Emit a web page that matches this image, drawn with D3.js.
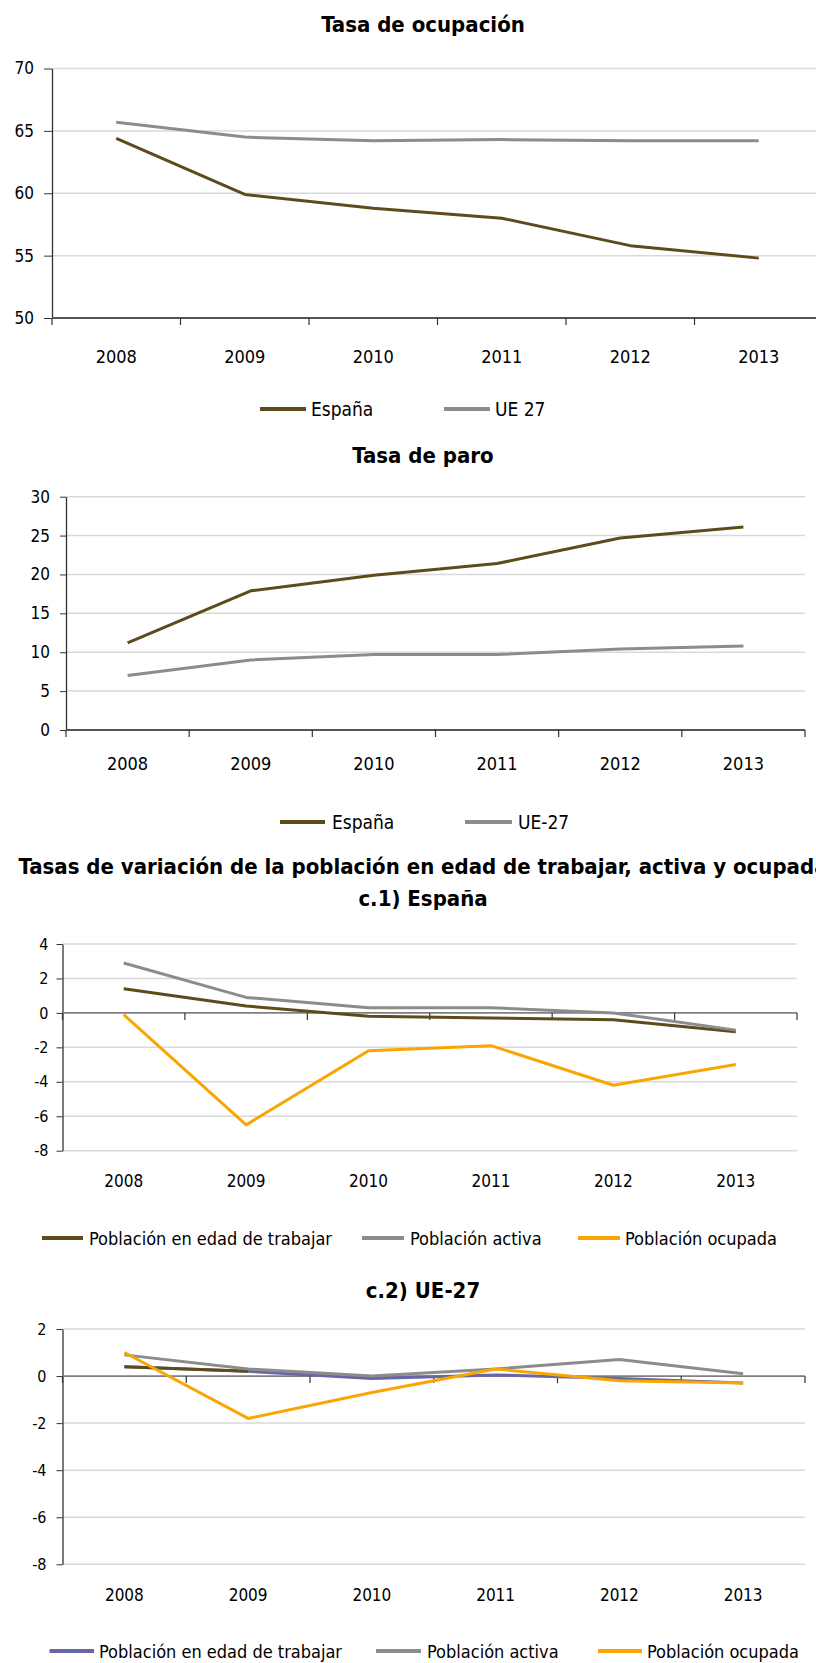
<!DOCTYPE html>
<html>
<head>
<meta charset="utf-8">
<script src="https://cdn.jsdelivr.net/npm/d3@7"></script>
<style>
  body { margin: 0; background: #fff; }
  svg text { font-family: "DejaVu Sans Condensed", "DejaVu Sans", sans-serif; font-stretch: condensed; fill: #000; }
</style>
</head>
<body>
<div id="chart"></div>
<script>
// categories
var years = ["2008", "2009", "2010", "2011", "2012", "2013"];

// a) Tasa de ocupación
var ocupEspana = [64.4, 59.9, 58.8, 58.0, 55.8, 54.8];
var ocupUE27   = [65.7, 64.5, 64.2, 64.3, 64.2, 64.2];
var ocupTicks  = [50, 55, 60, 65, 70];

// b) Tasa de paro
var paroEspana = [11.2, 17.9, 19.9, 21.4, 24.7, 26.1];
var paroUE27   = [7.0, 9.0, 9.7, 9.7, 10.4, 10.8];
var paroTicks  = [0, 5, 10, 15, 20, 25, 30];

// c.1) España
var espEdad    = [1.4, 0.4, -0.2, -0.3, -0.4, -1.1];
var espActiva  = [2.9, 0.9, 0.3, 0.3, 0.0, -1.0];
var espOcupada = [-0.1, -6.5, -2.2, -1.9, -4.2, -3.0];
var espTicks   = [-8, -6, -4, -2, 0, 2, 4];

// c.2) UE-27
var ueEdad    = [0.4, 0.2, -0.1, 0.05, -0.1, -0.3];
var ueActiva  = [0.9, 0.3, 0.0, 0.3, 0.7, 0.1];
var ueOcupada = [1.0, -1.8, -0.7, 0.3, -0.2, -0.3];
var ueTicks   = [-8, -6, -4, -2, 0, 2];

var BROWN = "#5e4b1c", GRAY = "#8c8c8c", ORANGE = "#f9a602", PURPLE = "#6767a7";

var svg = d3.select("#chart").append("svg")
  .attr("width", 816)
  .attr("height", 1663);

function drawChart(cfg) {
  var g = svg.append("g");

  var x = d3.scaleBand().domain(years).range([cfg.left, cfg.right]);
  var y = d3.scaleLinear().domain(d3.extent(cfg.ticks)).range([cfg.bottom, cfg.top]);
  var gridRight = Math.min(cfg.right, 816);

  // titles
  cfg.titles.forEach(function (t) {
    g.append("text")
      .attr("x", 423).attr("y", t.y)
      .attr("text-anchor", "middle")
      .attr("dominant-baseline", "central")
      .style("font-size", "22px").style("font-weight", "bold")
      .text(t.text);
  });

  // gridlines
  g.selectAll(".grid")
    .data(cfg.ticks.filter(function (d) { return d !== cfg.base; }))
    .enter().append("line")
    .attr("x1", cfg.left).attr("x2", gridRight)
    .attr("y1", function (d) { return y(d); })
    .attr("y2", function (d) { return y(d); })
    .attr("stroke", "#d9d9d9").attr("stroke-width", 1.5);

  // y axis (plain hyphen for negatives, as in the original)
  var yAxis = g.append("g")
    .attr("transform", "translate(" + cfg.left + ",0)")
    .call(d3.axisLeft(y)
      .tickValues(cfg.ticks)
      .tickFormat(function (d) { return String(d); })
      .tickSize(cfg.yTick).tickSizeOuter(0).tickPadding(cfg.yPad));
  yAxis.attr("font-family", null).attr("font-size", null);
  yAxis.select(".domain").attr("stroke", "#333").attr("stroke-width", 1.3);
  yAxis.selectAll(".tick line").attr("stroke", "#333");
  yAxis.selectAll("text").style("font-size", cfg.yFont + "px");

  // category axis on the base value
  var y0 = y(cfg.base);
  g.append("line")
    .attr("x1", cfg.left).attr("x2", gridRight)
    .attr("y1", y0).attr("y2", y0)
    .attr("stroke", cfg.baseColor).attr("stroke-width", 1.8);

  var bounds = years.map(function (d) { return x(d); }).concat([cfg.right]);
  g.selectAll(".xtick").data(bounds).enter().append("line")
    .attr("x1", function (d) { return d; }).attr("x2", function (d) { return d; })
    .attr("y1", y0).attr("y2", y0 + 7)
    .attr("stroke", "#333").attr("stroke-width", 1.2);

  g.selectAll(".xlab").data(years).enter().append("text")
    .attr("x", function (d) { return x(d) + x.bandwidth() / 2; })
    .attr("y", cfg.labelY)
    .attr("text-anchor", "middle")
    .attr("dominant-baseline", "central")
    .style("font-size", cfg.xFont + "px")
    .text(function (d) { return d; });

  // series
  var line = d3.line()
    .x(function (d, i) { return x(years[i]) + x.bandwidth() / 2; })
    .y(function (d) { return y(d); });

  cfg.series.forEach(function (s) {
    g.append("path")
      .datum(s.values)
      .attr("fill", "none")
      .attr("stroke", s.color)
      .attr("stroke-width", 3)
      .attr("stroke-linejoin", "round")
      .attr("d", line);
    if (s.headColor) {
      // first segment drawn in another colour, as in the original
      g.append("path")
        .datum(s.values.slice(0, 2))
        .attr("fill", "none")
        .attr("stroke", s.headColor)
        .attr("stroke-width", 3)
        .attr("d", line);
    }
  });

  // legend
  cfg.legend.forEach(function (l, i) {
    var s = cfg.series[i];
    g.append("line")
      .attr("x1", l[0]).attr("x2", l[1])
      .attr("y1", cfg.legendY).attr("y2", cfg.legendY)
      .attr("stroke", s.color).attr("stroke-width", 4);
    g.append("text")
      .attr("x", l[2]).attr("y", cfg.legendY)
      .attr("dominant-baseline", "central")
      .style("font-size", cfg.legendFont + "px")
      .text(s.name);
  });
}

drawChart({
  titles: [{ text: "Tasa de ocupación", y: 24 }],
  left: 52, right: 823, top: 68.5, bottom: 318,
  ticks: ocupTicks, base: 50, baseColor: "#555",
  yTick: 8, yPad: 10, yFont: 17, xFont: 18, labelY: 356,
  series: [
    { name: "España", values: ocupEspana, color: BROWN },
    { name: "UE 27", values: ocupUE27, color: GRAY }
  ],
  legendY: 409, legendFont: 19,
  legend: [[260, 306, 311], [444, 490, 495]]
});

drawChart({
  titles: [{ text: "Tasa de paro", y: 455 }],
  left: 66, right: 805, top: 496.7, bottom: 730,
  ticks: paroTicks, base: 0, baseColor: "#555",
  yTick: 6, yPad: 10, yFont: 17, xFont: 18, labelY: 763,
  series: [
    { name: "España", values: paroEspana, color: BROWN },
    { name: "UE-27", values: paroUE27, color: GRAY }
  ],
  legendY: 822, legendFont: 19,
  legend: [[280, 325, 332], [465, 512, 518]]
});

drawChart({
  titles: [
    { text: "Tasas de variación de la población en edad de trabajar, activa y ocupada", y: 866 },
    { text: "c.1) España", y: 898 }
  ],
  left: 62.5, right: 797, top: 944, bottom: 1150.7,
  ticks: espTicks, base: 0, baseColor: "#7f7f7f",
  yTick: 6, yPad: 8, yFont: 16, xFont: 17, labelY: 1181,
  series: [
    { name: "Población en edad de trabajar", values: espEdad, color: BROWN },
    { name: "Población activa", values: espActiva, color: GRAY },
    { name: "Población ocupada", values: espOcupada, color: ORANGE }
  ],
  legendY: 1238, legendFont: 18,
  legend: [[42, 83, 89], [362, 404, 410], [578, 620, 625]]
});

drawChart({
  titles: [{ text: "c.2) UE-27", y: 1290 }],
  left: 62.5, right: 805, top: 1329, bottom: 1564.3,
  ticks: ueTicks, base: 0, baseColor: "#7f7f7f",
  yTick: 6, yPad: 10, yFont: 16, xFont: 17, labelY: 1595,
  series: [
    { name: "Población en edad de trabajar", values: ueEdad, color: PURPLE, headColor: BROWN },
    { name: "Población activa", values: ueActiva, color: GRAY },
    { name: "Población ocupada", values: ueOcupada, color: ORANGE }
  ],
  legendY: 1651, legendFont: 18,
  legend: [[49.5, 94, 99], [376, 421, 427], [598, 642, 647]]
});
</script>
</body>
</html>
